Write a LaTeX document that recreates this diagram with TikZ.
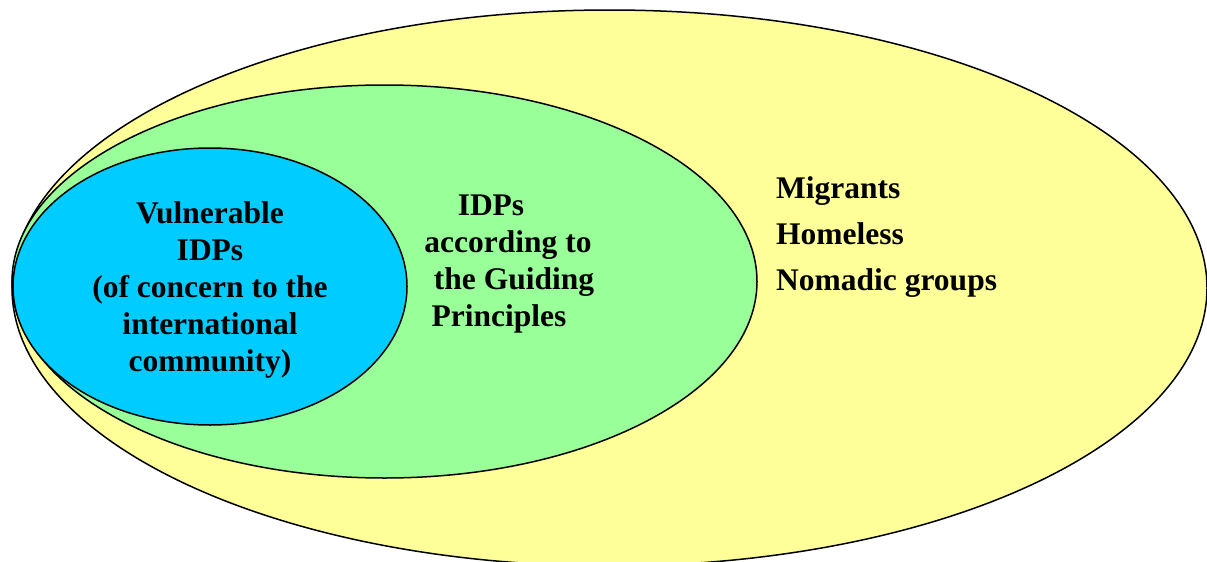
\documentclass[tikz,border=0pt]{standalone}
\usepackage{fontspec}
\setmainfont{Liberation Serif}
\definecolor{setyellow}{HTML}{FFFF99}
\definecolor{setgreen}{HTML}{99FF99}
\definecolor{setblue}{HTML}{00CCFF}
\begin{document}
\begin{tikzpicture}[x=1pt,y=-1pt,
  setshape/.style={draw=black,line width=1.5pt},
  label/.style={font=\fontsize{31.5}{37}\selectfont\bfseries,inner sep=0pt,text=black}]
\useasboundingbox (0,0) rectangle (1207,562);
% nested sets
\draw[setshape,fill=setyellow] (609.5,288) ellipse [x radius=597.5, y radius=278];
\draw[setshape,fill=setgreen] (384.5,281.5) ellipse [x radius=372.5, y radius=196.5];
\draw[setshape,fill=setblue] (210,286.5) ellipse [x radius=197, y radius=138.5];
% set labels
\node[label,align=center] (vulnerable) at (210,289.5)
  {Vulnerable\\IDPs\\(of concern to the\\international\\community)};
\node[label,align=center] (guiding) at (508,264)
  {IDPs\hspace*{34pt}\\according to\\\hspace*{12pt}the Guiding\\Principles\hspace*{18pt}};
\node[label,align=left,anchor=west,font=\fontsize{31.5}{46}\selectfont\bfseries] (others) at (776,237)
  {Migrants\\Homeless\\Nomadic groups};
\end{tikzpicture}
\end{document}
